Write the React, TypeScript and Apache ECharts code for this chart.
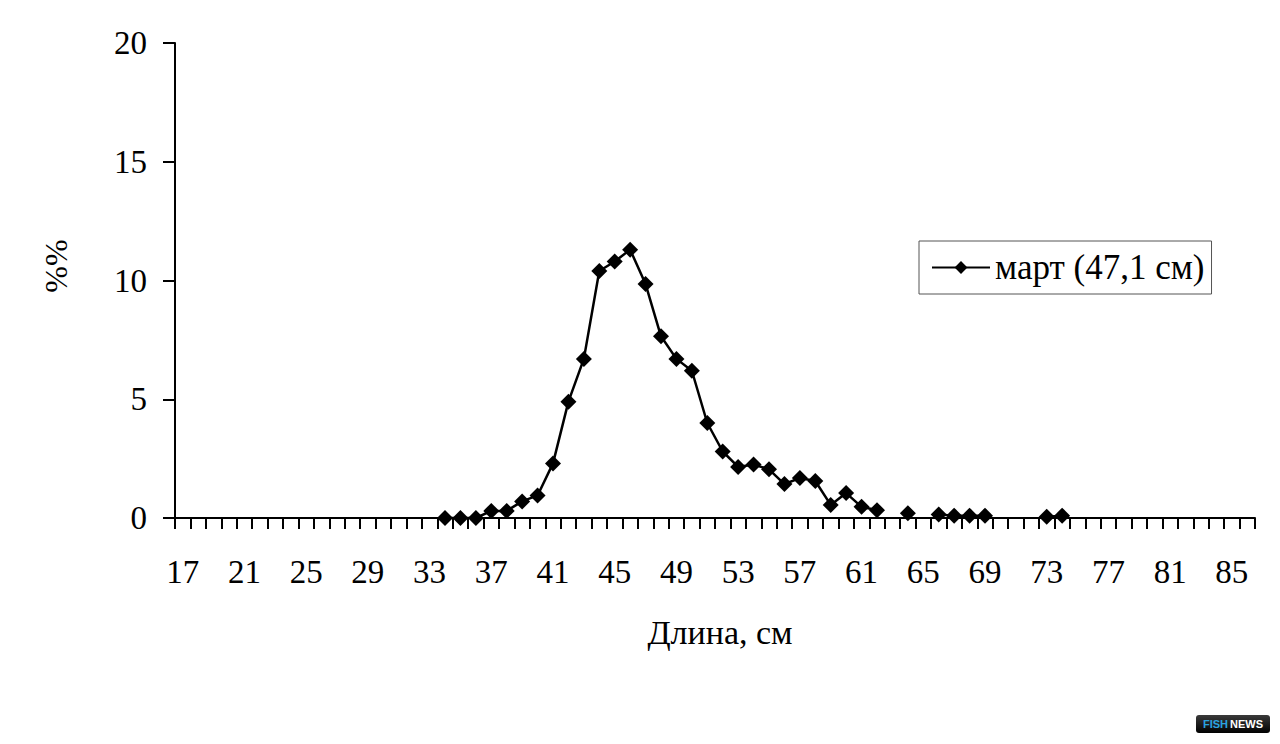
import { useEffect, useRef } from 'react';
import * as echarts from 'echarts';

// length classes, cm
const lengths = [
  '17', '18', '19', '20', '21', '22', '23', '24', '25', '26', '27', '28', '29', '30',
  '31', '32', '33', '34', '35', '36', '37', '38', '39', '40', '41', '42', '43', '44',
  '45', '46', '47', '48', '49', '50', '51', '52', '53', '54', '55', '56', '57', '58',
  '59', '60', '61', '62', '63', '64', '65', '66', '67', '68', '69', '70', '71', '72',
  '73', '74', '75', '76', '77', '78', '79', '80', '81', '82', '83', '84', '85', '86',
];

// share of catch, %% (null = no fish in that class)
const marchShares: (number | null)[] = [
  // 17..33
  null, null, null, null, null, null, null, null, null, null, null, null, null, null, null, null, null,
  // 34..43
  0, 0, 0, 0.3, 0.3, 0.7, 0.95, 2.3, 4.9, 6.7,
  // 44..53
  10.4, 10.8, 11.3, 9.85, 7.65, 6.7, 6.2, 4.0, 2.8, 2.15,
  // 54..62
  2.25, 2.05, 1.43, 1.68, 1.56, 0.55, 1.05, 0.47, 0.33,
  // 63..74
  null, 0.2, null, 0.15, 0.1, 0.1, 0.1, null, null, null, 0.05, 0.1,
  // 75..86
  null, null, null, null, null, null, null, null, null, null, null, null,
];

const seriesName = 'март (47,1 см)';
const xTitle = 'Длина, см';
const yTitle = '%%';

const serif = '"Liberation Serif", "Times New Roman", serif';

export default function App() {
  const ref = useRef<HTMLDivElement>(null);
  useEffect(() => {
    if (!ref.current) return;
    const chart = echarts.init(ref.current, undefined, { renderer: 'svg' });
    chart.setOption({
      animation: false,
      backgroundColor: '#fff',
      grid: { left: 175, top: 43, right: 25, bottom: 226, containLabel: false },
      legend: {
        left: 919,
        top: 241,
        orient: 'horizontal',
        borderColor: '#555',
        borderWidth: 1,
        padding: [9, 7, 9, 12],
        itemWidth: 58,
        itemHeight: 16,
        itemGap: 0,
        textStyle: { fontFamily: serif, fontSize: 35, color: '#000' },
        data: [seriesName],
      },
      xAxis: {
        type: 'category',
        data: lengths,
        boundaryGap: true,
        name: xTitle,
        nameLocation: 'middle',
        nameGap: 97,
        nameTextStyle: { fontFamily: serif, fontSize: 34, color: '#000', padding: [0, 0, 0, 10] },
        axisLine: { lineStyle: { color: '#000', width: 2 } },
        axisTick: { show: true, interval: 0, length: 11, lineStyle: { color: '#000', width: 2 } },
        axisLabel: {
          interval: 3,
          margin: 37,
          fontFamily: serif,
          fontSize: 33,
          color: '#000',
        },
        splitLine: { show: false },
      },
      yAxis: {
        type: 'value',
        min: 0,
        max: 20,
        interval: 5,
        axisLine: { show: true, lineStyle: { color: '#000', width: 2 } },
        axisTick: { show: true, length: 12, lineStyle: { color: '#000', width: 2 } },
        axisLabel: { margin: 28, fontFamily: serif, fontSize: 33, color: '#000' },
        splitLine: { show: false },
      },
      series: [
        {
          name: seriesName,
          type: 'line',
          data: marchShares,
          connectNulls: false,
          symbol: 'diamond',
          symbolSize: 16,
          showSymbol: true,
          showAllSymbol: true,
          itemStyle: { color: '#000' },
          lineStyle: { color: '#000', width: 2.5 },
        },
      ],
      graphic: [
        {
          type: 'text',
          x: 56,
          y: 266,
          rotation: Math.PI / 2,
          style: {
            text: yTitle,
            fill: '#000',
            font: `32px ${serif}`,
            align: 'center',
            verticalAlign: 'middle',
          },
        },
        {
          type: 'group',
          left: 1196,
          top: 715,
          children: [
            {
              type: 'rect',
              shape: { x: 0, y: 0, width: 74, height: 18, r: 3 },
              style: {
                fill: new echarts.graphic.LinearGradient(0, 0, 0, 1, [
                  { offset: 0, color: '#3a3a3a' },
                  { offset: 1, color: '#000' },
                ]),
              },
            },
            {
              type: 'text',
              x: 7,
              y: 3,
              style: {
                text: 'FISH',
                fill: '#2aa3e0',
                font: 'bold 11px "Liberation Sans", Arial, sans-serif',
              },
            },
            {
              type: 'text',
              x: 34,
              y: 3,
              style: {
                text: 'NEWS',
                fill: '#fff',
                font: 'bold 11px "Liberation Sans", Arial, sans-serif',
              },
            },
          ],
        },
      ],
    });
    return () => chart.dispose();
  }, []);
  return (
    <div
      ref={ref}
      style={{ position: 'absolute', left: 0, top: 0, width: 1280, height: 744 }}
    />
  );
}
